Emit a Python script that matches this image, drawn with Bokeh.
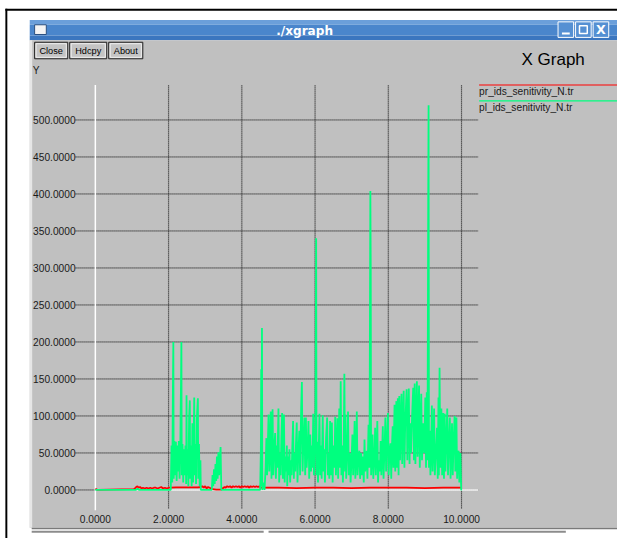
from bokeh.plotting import figure
from bokeh.models import Range1d
from bokeh.core.properties import value
from bokeh.embed import file_html
from bokeh.resources import INLINE

# ---------------- data ----------------
x_ticks = [0, 2, 4, 6, 8, 10]
x_tick_labels = ["0.0000", "2.0000", "4.0000", "6.0000", "8.0000", "10.0000"]
y_ticks = [0, 50, 100, 150, 200, 250, 300, 350, 400, 450, 500]
y_tick_labels = ["0.0000", "50.0000", "100.0000", "150.0000", "200.0000", "250.0000",
                 "300.0000", "350.0000", "400.0000", "450.0000", "500.0000"]
series_names = ["pr_ids_senitivity_N.tr", "pl_ids_senitivity_N.tr"]

red_pts = [
    (0.00, 1), (0.03, 1), (0.06, 0), (1.05, 1), (1.08, 2), (1.12, 4), (1.15, 5), (1.18, 3),
    (1.22, 4), (1.26, 2), (1.30, 3), (1.35, 2), (1.40, 3), (1.45, 2), (1.50, 3), (1.55, 2),
    (1.60, 3), (1.65, 3), (1.70, 2), (1.75, 3), (1.80, 4), (1.85, 2), (1.90, 3), (1.95, 2),
    (2.00, 3), (2.05, 3), (2.20, 3.5), (2.50, 3.5), (2.80, 3.5), (2.88, 4), (2.92, 5), (2.96, 3),
    (3.00, 5), (3.04, 2), (3.08, 4), (3.12, 3), (3.16, 2), (3.20, 1), (3.30, 0.5), (3.44, 0.5),
    (3.47, 2), (3.50, 3), (3.53, 4), (3.56, 3), (3.60, 5), (3.64, 4), (3.68, 5), (3.72, 3),
    (3.76, 5), (3.80, 4), (3.84, 5), (3.88, 4), (3.92, 5), (3.96, 3), (4.00, 5), (4.04, 4),
    (4.08, 5), (4.12, 4), (4.16, 5), (4.20, 3), (4.24, 5), (4.28, 4), (4.32, 5), (4.36, 4),
    (4.40, 5), (4.44, 4), (4.48, 5), (4.52, 3), (5.00, 3), (5.50, 2.5), (6.00, 3), (6.50, 3),
    (7.00, 2.5), (7.50, 3), (8.00, 3), (8.50, 3), (9.00, 2.5), (9.50, 3), (10.00, 3),
]

green_pts = [
    (0.00, 0), (1.10, 0), (1.15, 1.5), (1.20, 0), (2.05, 0),
    (2.06, 0), (2.08, 60), (2.10, 10), (2.12, 150), (2.13, 200), (2.14, 15), (2.16, 66),
    (2.18, 20), (2.20, 65), (2.22, 12), (2.24, 60), (2.26, 25), (2.28, 66), (2.30, 15),
    (2.32, 60), (2.34, 150), (2.35, 200), (2.36, 20), (2.38, 62), (2.40, 10), (2.42, 55),
    (2.44, 20), (2.46, 60), (2.48, 8), (2.49, 128), (2.50, 20), (2.52, 55), (2.54, 5),
    (2.56, 97), (2.58, 121), (2.59, 15), (2.61, 60), (2.63, 5), (2.65, 90), (2.67, 10),
    (2.70, 125), (2.71, 20), (2.73, 62), (2.75, 8), (2.77, 95), (2.80, 124), (2.81, 15),
    (2.83, 62), (2.85, 5), (2.87, 40), (2.88, 0),
    (3.18, 0), (3.20, 20), (3.22, 5), (3.24, 28), (3.26, 8), (3.28, 35), (3.30, 12),
    (3.32, 45), (3.34, 15), (3.36, 51), (3.38, 20), (3.40, 40), (3.42, 58), (3.44, 0),
    (4.50, 0), (4.52, 53), (4.53, 163), (4.54, 5), (4.55, 219), (4.56, 0), (4.60, 10),
    (4.62, 0), (4.65, 30), (4.67, 70), (4.69, 20), (4.71, 60), (4.73, 102), (4.75, 25),
    (4.77, 55), (4.79, 106), (4.81, 15), (4.83, 60), (4.84, 109), (4.86, 20), (4.88, 50),
    (4.91, 77), (4.93, 15), (4.95, 60), (4.97, 30), (5.00, 110), (5.02, 10), (5.04, 50),
    (5.06, 20), (5.08, 70), (5.10, 104), (5.12, 15), (5.13, 55), (5.15, 102), (5.17, 10),
    (5.19, 45), (5.21, 25), (5.23, 60), (5.24, 5), (5.26, 45), (5.28, 20), (5.30, 55),
    (5.32, 10), (5.34, 40), (5.36, 20), (5.38, 60), (5.40, 93), (5.42, 15), (5.44, 50),
    (5.46, 25), (5.48, 65), (5.50, 91), (5.52, 10), (5.54, 45), (5.57, 80), (5.59, 20),
    (5.62, 110), (5.64, 146), (5.66, 25), (5.68, 60), (5.71, 98), (5.73, 20), (5.75, 98),
    (5.77, 30), (5.80, 60), (5.82, 93), (5.84, 15), (5.87, 75), (5.89, 25), (5.91, 60),
    (5.93, 30), (5.95, 103), (5.97, 20), (5.99, 50), (6.01, 80), (6.03, 340), (6.04, 20),
    (6.06, 65), (6.08, 10), (6.10, 55), (6.12, 103), (6.14, 20), (6.16, 60), (6.18, 15),
    (6.21, 101), (6.23, 25), (6.25, 55), (6.27, 10), (6.30, 70), (6.33, 98), (6.35, 20),
    (6.37, 50), (6.39, 15), (6.41, 93), (6.43, 20), (6.46, 91), (6.48, 10), (6.50, 60),
    (6.53, 30), (6.55, 99), (6.57, 20), (6.59, 55), (6.61, 97), (6.63, 15), (6.66, 110),
    (6.68, 30), (6.70, 147), (6.72, 20), (6.74, 60), (6.76, 10), (6.78, 50), (6.80, 157),
    (6.82, 25), (6.83, 102), (6.85, 15), (6.88, 60), (6.90, 106), (6.92, 20), (6.95, 50),
    (6.97, 10), (7.00, 45), (7.02, 75), (7.04, 20), (7.06, 50), (7.08, 93), (7.10, 15),
    (7.12, 45), (7.14, 106), (7.16, 20), (7.18, 40), (7.21, 53), (7.23, 15), (7.26, 50),
    (7.28, 20), (7.30, 45), (7.33, 10), (7.35, 68), (7.37, 25), (7.39, 40), (7.41, 53),
    (7.43, 15), (7.46, 88), (7.48, 30), (7.49, 100), (7.51, 404), (7.52, 303), (7.53, 20),
    (7.55, 50), (7.57, 75), (7.59, 15), (7.62, 45), (7.64, 84), (7.66, 20), (7.68, 55),
    (7.70, 93), (7.72, 10), (7.74, 40), (7.77, 25), (7.79, 66), (7.81, 20), (7.83, 50),
    (7.85, 86), (7.87, 15), (7.90, 60), (7.92, 98), (7.94, 25), (7.96, 55), (7.99, 104),
    (8.01, 20), (8.03, 50), (8.06, 63), (8.08, 15), (8.10, 60), (8.12, 86), (8.14, 30),
    (8.17, 115), (8.19, 25), (8.20, 80), (8.22, 120), (8.24, 30), (8.26, 124), (8.28, 20),
    (8.30, 127), (8.32, 40), (8.34, 90), (8.36, 130), (8.38, 35), (8.40, 95), (8.42, 134),
    (8.44, 30), (8.46, 85), (8.50, 136), (8.52, 40), (8.54, 100), (8.56, 137), (8.58, 35),
    (8.60, 90), (8.62, 50), (8.65, 100), (8.68, 138), (8.70, 40), (8.72, 144), (8.74, 35),
    (8.76, 95), (8.78, 147), (8.80, 45), (8.82, 100), (8.84, 141), (8.86, 30), (8.88, 85),
    (8.90, 130), (8.92, 40), (8.95, 90), (8.98, 50), (9.01, 125), (9.03, 30), (9.05, 132),
    (9.07, 40), (9.09, 390), (9.10, 520), (9.11, 30), (9.13, 80), (9.15, 20), (9.17, 53),
    (9.19, 114), (9.21, 25), (9.23, 60), (9.25, 110), (9.27, 20), (9.30, 50), (9.33, 84),
    (9.35, 15), (9.37, 125), (9.38, 20), (9.40, 165), (9.42, 30), (9.45, 110), (9.47, 20),
    (9.50, 104), (9.52, 15), (9.54, 103), (9.56, 25), (9.58, 60), (9.61, 110), (9.63, 20),
    (9.65, 55), (9.68, 98), (9.70, 15), (9.72, 50), (9.74, 90), (9.76, 20), (9.78, 60),
    (9.81, 100), (9.83, 25), (9.86, 98), (9.88, 15), (9.90, 45), (9.92, 53), (9.94, 10),
    (9.97, 50), (9.99, 0), (10.00, 0),
]

red_x = [p[0] for p in red_pts]
red_y = [p[1] for p in red_pts]
green_x = [p[0] for p in green_pts]
green_y = [p[1] for p in green_pts]

# ---------------- layout ----------------
# The canvas represents the 633x554 reference, scaled to fit 617x538.
X0, SX = 97.3, 37.57      # reference pixel of x=0, pixels per x unit
Y0, SY = 504.0, 0.762     # reference pixel of y=0, pixels per y unit
W, H = 617, 538
REF_W, REF_H = 633, 554


def dx(X):
    return (X - X0) / SX


def dy(Y):
    return (Y0 - Y) / SY


def fs(px):
    return "%.1fpx" % (px * H / REF_H)


FONT = value("Liberation Sans")

p = figure(width=W, height=H, output_backend="svg", toolbar_location=None,
           x_range=Range1d(dx(0), dx(REF_W)), y_range=Range1d(dy(REF_H), dy(0)),
           x_axis_location=None, y_axis_location=None, min_border=0,
           background_fill_color="white", border_fill_color="white", outline_line_color=None)
p.grid.visible = False


def box(X1, Y1, X2, Y2, fill, line=None, lw=1):
    p.quad(left=[dx(X1)], right=[dx(X2)], top=[dy(Y1)], bottom=[dy(Y2)],
           fill_color=fill, line_color=line, line_width=lw)


# outer screenshot frame
box(5, 8.5, 640, 10.5, "black")
box(5, 8.5, 7, 560, "black")

# window title bar
box(30, 20, 640, 25, "#6b9fda")
box(30, 25, 640, 36, "#4a86cc")
box(30, 36, 640, 41, "#3b76bf")
box(35, 25, 47, 35, "#f4f4f4", "#2a4f80", 1)
p.text(x=[dx(312)], y=[dy(31)], text=["./xgraph"], text_font=value("DejaVu Sans"),
       text_font_style="bold", text_font_size=fs(12.5), text_color="white",
       text_align="center", text_baseline="middle")
for bx in (572, 590, 608):
    box(bx, 22, bx + 16, 38, "#5590d3", "white", 1)
p.segment(x0=[dx(576)], y0=[dy(34)], x1=[dx(584)], y1=[dy(34)], line_color="white", line_width=2)
box(594, 26, 602, 34, None, "white", 1.5)
p.text(x=[dx(616)], y=[dy(30)], text=["X"], text_font=value("DejaVu Sans"), text_font_style="bold",
       text_font_size=fs(13), text_color="white", text_align="center", text_baseline="middle")

# gray panel
box(30, 41, 640, 543, "#c0c0c0")
box(30, 41, 32.5, 543, "#e6e6e6")
box(32, 543, 640, 544.5, "#7a7a7a")
box(32, 546, 270, 548, "#8c8c8c")
box(275, 546, 580, 548, "#8c8c8c")

# buttons
for (bx1, bx2, lab) in ((35, 69, "Close"), (71, 109, "Hdcpy"), (111, 146, "About")):
    box(bx1, 43, bx2, 60, "#c4c4c4", "#202020", 1)
    box(bx1 + 1.5, 44.5, bx2 - 1.5, 58.5, None, "#f0f0f0", 1)
    p.text(x=[dx((bx1 + bx2) / 2)], y=[dy(51.5)], text=[lab], text_font=FONT,
           text_font_size=fs(9.5), text_color="black", text_align="center", text_baseline="middle")

p.text(x=[dx(567)], y=[dy(61)], text=["X Graph"], text_font=FONT, text_font_size=fs(17.5),
       text_color="black", text_align="center", text_baseline="middle")
p.text(x=[dx(33)], y=[dy(72)], text=["Y"], text_font=FONT, text_font_size=fs(10.5),
       text_color="#1a1a1a", text_align="left", text_baseline="middle")

# grid lines (xgraph dotted grid)
vx = [t for t in x_ticks if t != 0]
for col, w, dash, a in (("#9a9a9a", 2, "solid", 0.3), ("#1c1c1c", 1, "1 1", 1.0)):
    p.segment(x0=vx, y0=[dy(523)] * len(vx), x1=vx, y1=[dy(87)] * len(vx),
              line_color=col, line_width=w, line_dash=dash, line_alpha=a)
    p.segment(x0=[dx(77)] * len(y_ticks), y0=y_ticks, x1=[dx(490)] * len(y_ticks), y1=y_ticks,
              line_color=col, line_width=w, line_dash=dash, line_alpha=a)
# zero axes in white
p.segment(x0=[0], y0=[dy(525)], x1=[0], y1=[dy(87)], line_color="white", line_width=1.5)
p.segment(x0=[0], y0=[0], x1=[dx(490)], y1=[0], line_color="white", line_width=1.5)

# tick labels
p.text(x=[dx(77)] * len(y_ticks), y=y_ticks, text=y_tick_labels, text_font=FONT,
       text_font_size=fs(10.5), text_color="#1a1a1a", text_align="right", text_baseline="middle")
p.text(x=x_ticks, y=[dy(534)] * len(x_ticks), text=x_tick_labels, text_font=FONT,
       text_font_size=fs(10.5), text_color="#1a1a1a", text_align="center", text_baseline="middle")

# data series
p.line(red_x, red_y, line_color="#ff0000", line_width=1.8)
p.line(green_x, green_y, line_color="#00ff7f", line_width=1.8)

# legend (xgraph style: line above name)
p.segment(x0=[dx(491)], y0=[dy(87)], x1=[dx(640)], y1=[dy(87)], line_color="#ff0000", line_width=1.2)
p.segment(x0=[dx(491)], y0=[dy(103.3)], x1=[dx(640)], y1=[dy(103.3)], line_color="#00ff7f", line_width=1.2)
p.text(x=[dx(491), dx(491)], y=[dy(94), dy(110)], text=series_names, text_font=FONT,
       text_font_size=fs(10.5), text_color="#1a1a1a", text_align="left", text_baseline="middle")

open("out.html", "w").write(file_html(p, INLINE))
